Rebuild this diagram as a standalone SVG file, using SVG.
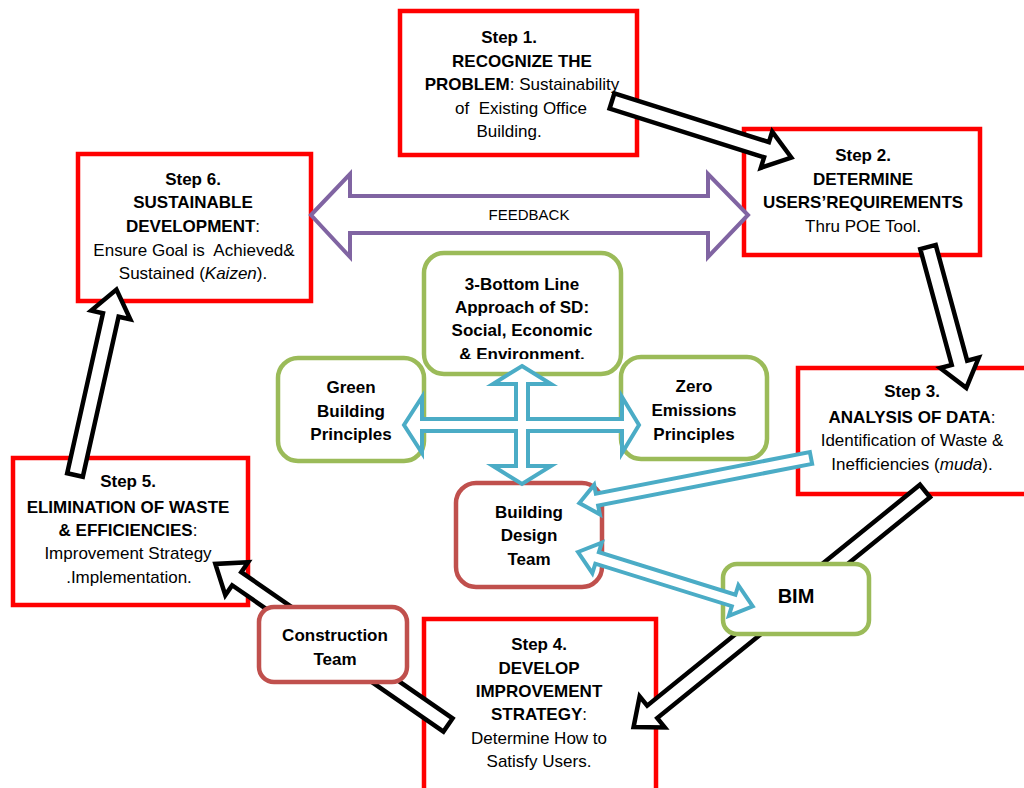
<svg xmlns="http://www.w3.org/2000/svg" width="1024" height="788" viewBox="0 0 1024 788">
<style>
text{font-family:"Liberation Sans",Arial,sans-serif;font-size:17px;fill:#000;text-anchor:middle}
.b{font-weight:bold}
.i{font-style:italic}
.pre{white-space:pre}
.step{fill:#fff;stroke:#ff0000;stroke-width:4.5}
.grn{fill:#fff;stroke:#9bbb59;stroke-width:4.5}
.brn{fill:#fff;stroke:#c0504d;stroke-width:4.5}
.blk{fill:#fff;stroke:#000;stroke-width:4.5;stroke-linejoin:miter}
.blu{fill:#fff;stroke:#4bacc6;stroke-width:4}
.pur{fill:#fff;stroke:#8064a2;stroke-width:4}
</style>
<defs>
<clipPath id="clipTBL"><rect x="423" y="252" width="200" height="107"/></clipPath>
</defs>
<rect width="1024" height="788" fill="#fff"/>

<g id="step1">
<rect class="step" x="400" y="11" width="237" height="144"/>
<text x="509" y="43" class="b">Step 1.</text>
<text x="522" y="67" class="b">RECOGNIZE THE</text>
<text x="522" y="90"><tspan class="b">PROBLEM</tspan>: Sustainability</text>
<text x="521" y="114" class="pre">of  Existing Office</text>
<text x="509" y="137">Building.</text>
</g>

<g id="step2">
<rect class="step" x="744" y="129" width="236" height="126"/>
<text x="863" y="161" class="b">Step 2.</text>
<text x="863" y="185" class="b">DETERMINE</text>
<text x="863" y="208" class="b">USERS’REQUIREMENTS</text>
<text x="863" y="232">Thru POE Tool.</text>
</g>

<g id="step3">
<rect class="step" x="798" y="368" width="232" height="126"/>
<text x="912" y="397" class="b">Step 3.</text>
<text x="912" y="423"><tspan class="b">ANALYSIS OF DATA</tspan>:</text>
<text x="912" y="446">Identification of Waste &amp;</text>
<text x="912" y="470">Inefficiencies (<tspan class="i">muda</tspan>).</text>
</g>

<g id="step4">
<rect class="step" x="424" y="619" width="232" height="190"/>
<text x="539" y="650" class="b">Step 4.</text>
<text x="539" y="674" class="b">DEVELOP</text>
<text x="539" y="697" class="b">IMPROVEMENT</text>
<text x="539" y="720"><tspan class="b">STRATEGY</tspan>:</text>
<text x="539" y="744">Determine How to</text>
<text x="539" y="767">Satisfy Users.</text>
</g>

<g id="step5">
<rect class="step" x="13" y="458" width="235" height="147"/>
<text x="128" y="487" class="b">Step 5.</text>
<text x="128" y="513" class="b">ELIMINATION OF WASTE</text>
<text x="128" y="536"><tspan class="b">&amp; EFFICIENCIES</tspan>:</text>
<text x="128" y="559">Improvement Strategy</text>
<text x="129" y="583">.Implementation.</text>
</g>

<g id="step6">
<rect class="step" x="78" y="154" width="233" height="147"/>
<text x="193" y="185" class="b">Step 6.</text>
<text x="193" y="208" class="b">SUSTAINABLE</text>
<text x="193" y="232"><tspan class="b">DEVELOPMENT</tspan>:</text>
<text x="194" y="256" class="pre">Ensure Goal is  Achieved&amp;</text>
<text x="193" y="279">Sustained (<tspan class="i">Kaizen</tspan>).</text>
</g>

<g id="connectors-flow">
<polygon class="blk" transform="translate(612,101) rotate(17.5)" points="0,-8 162,-8 162,-19 188,0 162,19 162,8 0,8"/>
<polygon class="blk" transform="translate(928,247) rotate(74.8)" points="0,-8 120,-8 120,-20 146,0 120,20 120,8 0,8"/>
<polygon class="blk" transform="translate(925,491) rotate(141)" points="0,-8 351,-8 351,-20 375,0 351,20 351,8 0,8"/>
<polygon class="blk" transform="translate(448,725) rotate(214.7)" points="0,-8 257,-8 257,-20 283,0 257,20 257,8 0,8"/>
<polygon class="blk" transform="translate(75,475) rotate(-77.4)" points="0,-8 164,-8 164,-20 190,0 164,20 164,8 0,8"/>
</g>

<g id="triple-bottom-line">
<rect class="grn" x="424" y="253" width="197" height="121" rx="20"/>
<g clip-path="url(#clipTBL)">
<text x="522" y="290" class="b">3-Bottom Line</text>
<text x="522" y="313" class="b">Approach of SD:</text>
<text x="522" y="336" class="b">Social, Economic</text>
<text x="522" y="360" class="b">&amp; Environment.</text>
</g>
</g>

<g id="green-building">
<rect class="grn" x="278" y="358" width="146" height="103" rx="20"/>
<text x="351" y="393" class="b">Green</text>
<text x="351" y="417" class="b">Building</text>
<text x="351" y="440" class="b">Principles</text>
</g>

<g id="zero-emissions">
<rect class="grn" x="621" y="357" width="146" height="102" rx="20"/>
<text x="694" y="392" class="b">Zero</text>
<text x="694" y="416" class="b">Emissions</text>
<text x="694" y="440" class="b">Principles</text>
</g>

<g id="building-design-team">
<rect class="brn" x="456" y="483" width="146" height="104" rx="20"/>
<text x="529" y="518" class="b">Building</text>
<text x="529" y="541" class="b">Design</text>
<text x="529" y="565" class="b">Team</text>
</g>

<g id="bim">
<rect class="grn" x="723" y="564" width="146" height="70" rx="14"/>
<text x="796" y="603" class="b" style="font-size:20px">BIM</text>
</g>

<g id="construction-team">
<rect class="brn" x="259" y="607" width="148" height="75" rx="15"/>
<text x="335" y="641" class="b">Construction</text>
<text x="335" y="665" class="b">Team</text>
</g>

<g id="connectors-links">
<polygon class="blu" points="522,366 551,384 528,384 528,419 622,419 622,397 639,425 622,453 622,431 528,431 528,466 551,466 522,484 493,466 516,466 516,431 422,431 422,453 404,425 422,397 422,419 516,419 516,384 493,384"/>
<polygon class="blu" transform="translate(811,458) rotate(169)" points="0,-6 218,-6 218,-15 236,0 218,15 218,6 0,6"/>
<polygon class="blu" transform="translate(578,552) rotate(17.3)" points="0,0 20,-16 20,-6 163,-6 163,-16 183,0 163,16 163,6 20,6 20,16"/>
<polygon class="pur" points="311,215 350,174 350,196 708,196 708,174 748,215 708,257 708,233 350,233 350,257"/>
<text x="529" y="220" style="font-size:15px">FEEDBACK</text>
</g>
</svg>
